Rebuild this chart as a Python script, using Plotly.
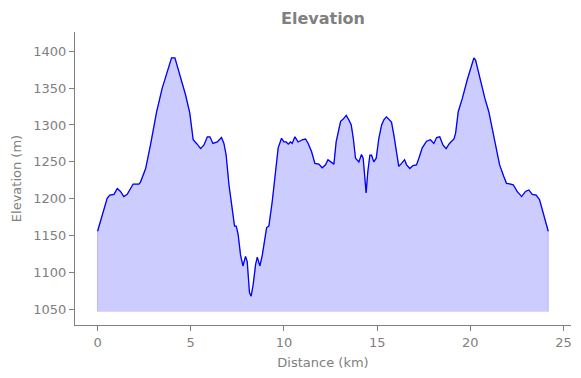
import plotly.graph_objects as go

distance_km = [0.00, 0.25, 0.52, 0.66, 0.88, 1.06, 1.23, 1.41, 1.59, 1.91, 2.22, 2.31, 2.58, 2.84,
               3.17, 3.47, 3.74, 3.97, 4.15, 4.36, 4.72, 4.95, 5.13, 5.31, 5.53, 5.71, 5.89, 6.03,
               6.19, 6.42, 6.65, 6.78, 6.90, 7.05, 7.22, 7.35, 7.44, 7.54, 7.67, 7.80, 7.94, 8.03,
               8.15, 8.24, 8.35, 8.48, 8.57, 8.65, 8.71, 8.84, 8.98, 9.07, 9.19, 9.37, 9.55, 9.69,
               9.87, 10.00, 10.12, 10.23, 10.35, 10.44, 10.59, 10.76, 10.98, 11.16, 11.30, 11.48,
               11.66, 11.87, 12.05, 12.23, 12.36, 12.50, 12.68, 12.80, 12.89, 13.04, 13.18, 13.34,
               13.48, 13.61, 13.72, 13.84, 14.02, 14.16, 14.25, 14.34, 14.41, 14.50, 14.61, 14.70,
               14.82, 14.95, 15.09, 15.24, 15.36, 15.50, 15.63, 15.77, 15.90, 16.04, 16.16, 16.31,
               16.47, 16.58, 16.75, 16.92, 17.11, 17.24, 17.42, 17.65, 17.86, 18.04, 18.19, 18.36,
               18.53, 18.70, 18.88, 19.12, 19.21, 19.35, 19.57, 19.83, 20.06, 20.19, 20.28, 20.55,
               20.78, 20.99, 21.26, 21.57, 21.80, 21.94, 22.16, 22.30, 22.51, 22.75, 22.96, 23.14,
               23.32, 23.53, 23.71, 23.94, 24.18]
elevation_m = [1156, 1178, 1201, 1205, 1206, 1214, 1210, 1203, 1206, 1220, 1220, 1223, 1241, 1273,
               1318, 1350, 1372, 1391, 1391, 1372, 1341, 1316, 1280, 1275, 1268, 1273, 1284, 1284,
               1275, 1277, 1283, 1275, 1259, 1219, 1187, 1163, 1163, 1152, 1124, 1109, 1122, 1115,
               1073, 1068, 1084, 1111, 1121, 1115, 1109, 1124, 1151, 1161, 1163, 1196, 1237, 1269,
               1282, 1277, 1277, 1274, 1277, 1275, 1284, 1277, 1280, 1281, 1275, 1264,
               1248, 1247, 1242, 1246, 1253, 1250, 1247, 1277, 1289, 1305, 1308, 1313,
               1307, 1300, 1282, 1255, 1250, 1260, 1255, 1228, 1208, 1237, 1259, 1259,
               1250, 1255, 1282, 1300, 1307, 1311, 1308, 1304, 1286, 1264, 1244, 1248,
               1253, 1246, 1241, 1245, 1246, 1255, 1269, 1278, 1280, 1275, 1283, 1284,
               1273, 1268, 1275, 1281, 1289, 1318, 1336, 1361, 1381, 1391, 1388, 1359,
               1336, 1318, 1282, 1246, 1230, 1221, 1220, 1219, 1210, 1203, 1210, 1212,
               1206, 1205, 1199, 1178, 1156]
FILL_BASE = 1047
x_ticks = [0, 5, 10, 15, 20, 25]
y_ticks = [1050, 1100, 1150, 1200, 1250, 1300, 1350, 1400]

GRAY = "#808080"
FONT = "DejaVu Sans"

fig = go.Figure()
fig.add_trace(go.Scatter(
    x=[distance_km[0]] + distance_km + [distance_km[-1]],
    y=[FILL_BASE] + elevation_m + [FILL_BASE],
    fill="toself", fillcolor="rgba(0,0,255,0.2)",
    line=dict(color="rgba(0,0,255,0.2)", width=1),
    mode="lines", hoverinfo="skip", showlegend=False))
fig.add_trace(go.Scatter(
    x=distance_km, y=elevation_m, mode="lines",
    line=dict(color="blue", width=1.3), showlegend=False))

axis_common = dict(
    showgrid=False, zeroline=False, showline=True, linecolor=GRAY, linewidth=1,
    ticks="outside", ticklen=5, tickcolor=GRAY, tickwidth=1, automargin=False,
    tickfont=dict(family=FONT, size=13, color=GRAY),
)
fig.update_layout(
    width=581, height=378,
    margin=dict(l=75, r=10, t=32, b=53),
    paper_bgcolor="white", plot_bgcolor="white",
    title=dict(text="<b>Elevation</b>", x=0.5, xref="paper", yref="container",
               y=1 - 18 / 378, yanchor="middle",
               font=dict(family=FONT, size=16, color=GRAY)),
    xaxis=dict(range=[-1.21, 25.4], tickvals=x_ticks,
               title=dict(text="Distance (km)", font=dict(family=FONT, size=13, color=GRAY), standoff=9),
               **axis_common),
    yaxis=dict(range=[1029, 1426], tickvals=y_ticks,
               title=dict(text="Elevation (m)", font=dict(family=FONT, size=13, color=GRAY), standoff=8),
               **axis_common),
)
fig.write_html("out.html", config={"displayModeBar": False},
               post_script="document.body.style.margin='0';document.body.style.overflow='hidden';")
